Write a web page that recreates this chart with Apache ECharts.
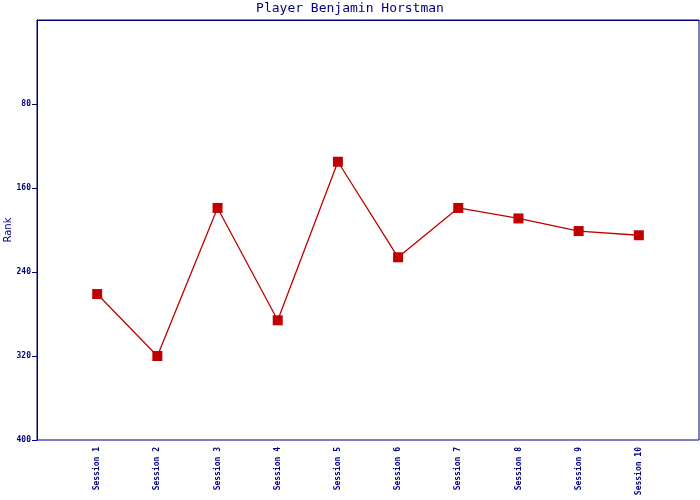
<!DOCTYPE html>
<html><head><meta charset="utf-8">
<script src="https://cdn.jsdelivr.net/npm/echarts@6/dist/echarts.min.js"></script>
<style>html,body{margin:0;padding:0;background:#fff}#c{width:700px;height:500px}</style>
</head><body><div id="c"></div>
<script>
const titleText = 'Player Benjamin Horstman';
const categories = ['', 'Session 1', 'Session 2', 'Session 3', 'Session 4', 'Session 5', 'Session 6', 'Session 7', 'Session 8', 'Session 9', 'Session 10', ''];
const ranks = ['-', 261, 320, 179, 286, 135, 226, 179, 189, 201, 205, '-'];
const yTicks = [80, 160, 240, 320, 400];
const navy = '#000080';
const chart = echarts.init(document.getElementById('c'), null, {renderer: 'canvas'});
chart.setOption({
  animation: false,
  backgroundColor: '#fff',
  title: {text: titleText, left: 'center', top: -3,
    textStyle: {fontFamily: 'DejaVu Sans Mono', fontSize: 13, fontWeight: 'normal', color: navy}},
  grid: {left: 37, right: 1, top: 20, bottom: 60, containLabel: false, outerBoundsMode: 'none',
    show: true, borderColor: navy, borderWidth: 1, backgroundColor: 'transparent'},
  xAxis: {type: 'category', data: categories, boundaryGap: false,
    axisLine: {lineStyle: {color: navy, width: 1}},
    axisTick: {show: false},
    axisLabel: {rotate: 90, interval: 0, margin: 7, color: navy,
      fontFamily: 'DejaVu Sans Mono', fontSize: 8, fontWeight: 'bold'}},
  yAxis: {type: 'value', inverse: true, min: 0, max: 400, interval: 80,
    name: 'Rank', nameLocation: 'middle', nameGap: 24, nameMoveOverlap: false,
    nameTextStyle: {color: navy, fontFamily: 'DejaVu Sans', fontSize: 10},
    axisLine: {show: true, lineStyle: {color: navy, width: 1}},
    axisTick: {show: true, length: 5, customValues: yTicks, lineStyle: {color: navy}},
    splitLine: {show: false},
    axisLabel: {color: navy, fontFamily: 'DejaVu Sans Mono', fontSize: 8, fontWeight: 'bold', margin: 6,
      customValues: yTicks}},
  series: [{type: 'line', data: ranks, symbol: 'rect', symbolSize: 10,
    lineStyle: {color: '#c00000', width: 1.3},
    itemStyle: {color: '#c00000'}, connectNulls: false}]
});
</script></body></html>
